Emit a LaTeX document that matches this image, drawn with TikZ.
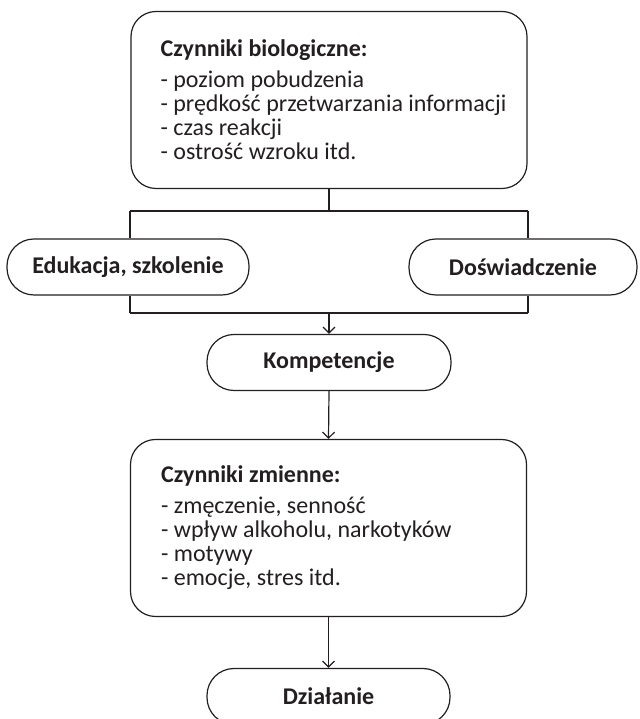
\documentclass[tikz,border=0pt]{standalone}
\usepackage{fontspec}
\setmainfont{Carlito}
\usetikzlibrary{arrows.meta}
\definecolor{ink}{RGB}{35,31,32}
\begin{document}
\begin{tikzpicture}[x=1pt,y=1pt,
  every node/.style={text=ink, font=\fontsize{24}{24}\selectfont},
  bigbox/.style={draw=ink, line width=1.2pt, rounded corners=25pt, minimum width=396pt, minimum height=177pt, inner sep=0pt},
  pill/.style={draw=ink, line width=1.2pt, rounded corners=27pt, minimum height=56pt, inner sep=0pt, font=\fontsize{24}{24}\selectfont\bfseries},
  listtext/.style={anchor=west, align=left, inner sep=0pt},
  conn/.style={draw=ink, line width=1.2pt},
  arr/.style={conn, -{Straight Barb[length=6pt,width=12pt,line width=1.2pt]}}
]
\useasboundingbox (0,0) rectangle (639,719);
\clip (0,0) rectangle (639,719);

\node[bigbox] (bio) at (329,619) {};
\node[listtext] (biotext) at ([xshift=30pt]bio.west) {\textbf{Czynniki biologiczne:}\\[7pt]
- poziom pobudzenia\\
- prędkość przetwarzania informacji\\
- czas reakcji\\
- ostrość wzroku itd.};

\node[pill, minimum width=242pt] (edu) at (128,452) {Edukacja, szkolenie};
\node[pill, minimum width=228pt] (dos) at (523,452) {Doświadczenie};

\coordinate (tl) at (130,508);
\coordinate (tr) at (528,508);
\coordinate (bl) at (130,406);
\coordinate (br) at (528,406);
\coordinate (bm) at (329,406);

\node[pill, minimum width=244pt] (komp) at (329,356.5) {Kompetencje};

\node[bigbox] (zm) at (328.5,191) {};
\node[listtext] (zmtext) at ([xshift=31pt]zm.west) {\textbf{Czynniki zmienne:}\\[7pt]
- zmęczenie, senność\\
- wpływ alkoholu, narkotyków\\
- motywy\\
- emocje, stres itd.};

\node[pill, minimum width=243pt] (dz) at (328.5,22.5) {Działanie};

\draw[conn] (bio.south) -- (bio.south |- tl);
\draw[conn] (tl) -- (tr);
\draw[conn] (tl) -- (tl |- edu.north);
\draw[conn] (tr) -- (tr |- dos.north);
\draw[conn] (bl |- edu.south) -- (bl);
\draw[conn] (br |- dos.south) -- (br);
\draw[conn] (bl) -- (br);
\draw[arr] (bm) -- (komp.north);
\draw[arr] (komp.south) -- (zm.north);
\draw[arr] (zm.south) -- (dz.north);
\end{tikzpicture}
\end{document}
